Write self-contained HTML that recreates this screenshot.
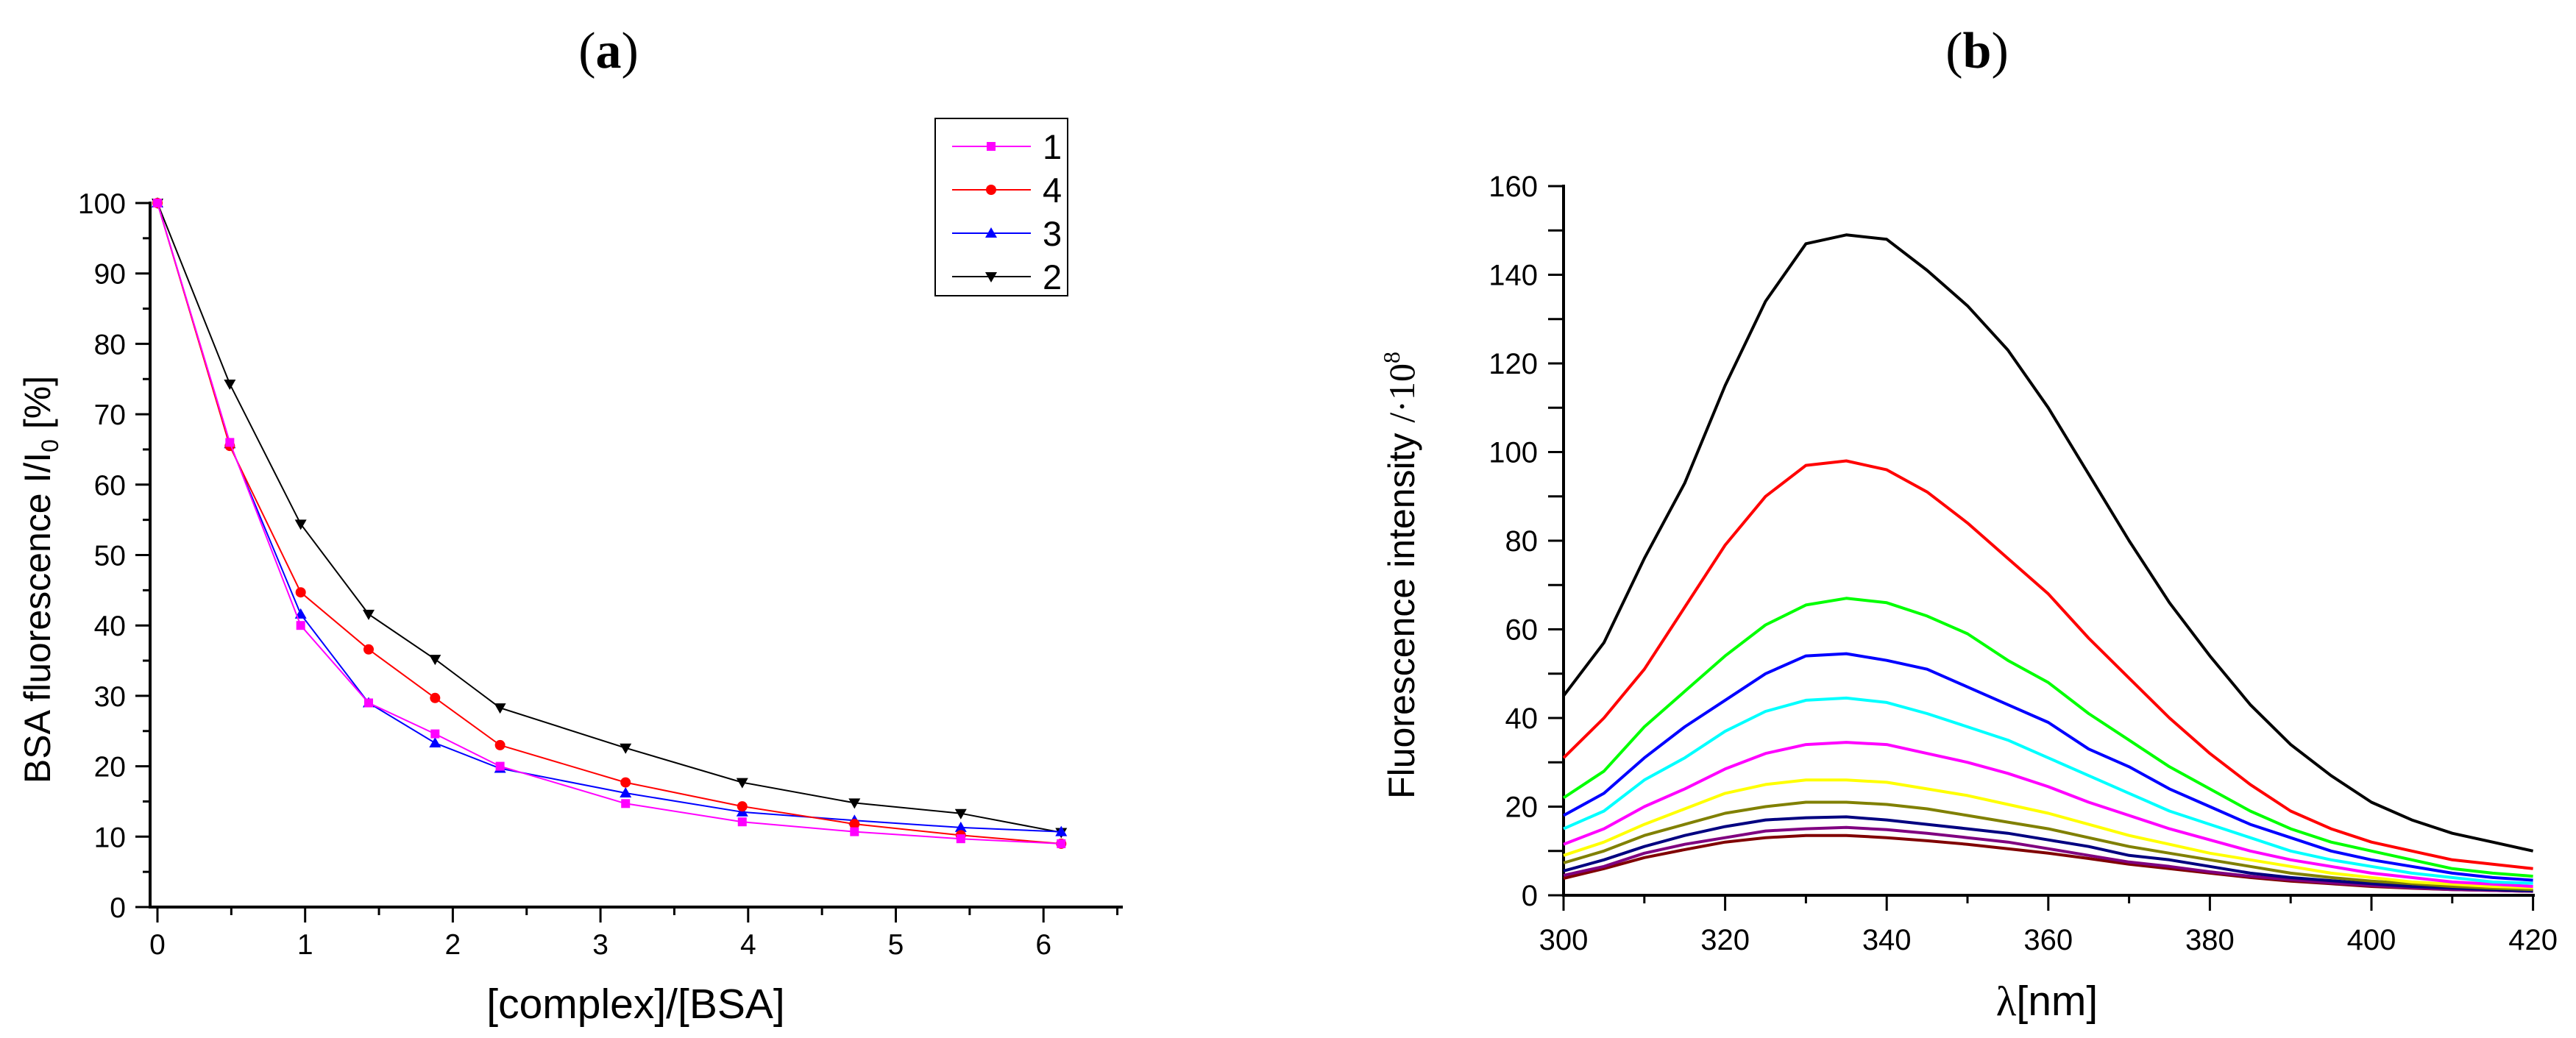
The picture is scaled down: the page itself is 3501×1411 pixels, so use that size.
<!DOCTYPE html>
<html><head><meta charset="utf-8"><style>
html,body{margin:0;padding:0;background:#fff;}
svg{display:block;}
text{font-family:"Liberation Sans Narrow","Liberation Sans",sans-serif;fill:#000;}
.title{font-family:"Liberation Serif",serif;font-weight:bold;font-size:70px;}
</style></head><body>
<svg id="fig" width="3501" height="1411" viewBox="0 0 3501 1411" xmlns="http://www.w3.org/2000/svg">
<rect width="3501" height="1411" fill="#fff"/>
<text class="title" x="827" y="92" text-anchor="middle"><tspan font-weight="normal">(</tspan>a<tspan font-weight="normal">)</tspan></text>
<text class="title" x="2687" y="92" text-anchor="middle"><tspan font-weight="normal">(</tspan>b<tspan font-weight="normal">)</tspan></text>
<g id="pa"></g>
<g id="pb"></g>
</svg>
<script>
// ----- Panel (a) data -----
const aX = [0, 0.49, 0.97, 1.43, 1.88, 2.32, 3.17, 3.96, 4.72, 5.44, 6.12];
const aS1 = [100, 66, 40, 29, 24.6, 20, 14.7, 12.1, 10.7, 9.7, 9];
const aS4 = [100, 65.5, 44.7, 36.6, 29.7, 23, 17.7, 14.3, 11.8, 10.2, 9];
const aS3 = [100, 65.8, 41.6, 29, 23.3, 19.7, 16.2, 13.5, 12.3, 11.3, 10.7];
const aS2 = [100, 74.3, 54.4, 41.6, 35.2, 28.3, 22.6, 17.7, 14.8, 13.3, 10.6];
const aXTicks = ["0","1","2","3","4","5","6"];
const aYTicks = ["0","10","20","30","40","50","60","70","80","90","100"];
const aLegend = ["1","4","3","2"];

// ----- Panel (b) data -----
const bX = [300,305,310,315,320,325,330,335,340,345,350,355,360,365,370,375,380,385,390,395,400,405,410,415,420];
const bBlack  = [45,57,76,93,115,134,147,149,148,141,133,123,110,95,80,66,54,43,34,27,21,17,14,12,10];
const bRed    = [31,40,51,65,79,90,97,98,96,91,84,76,68,58,49,40,32,25,19,15,12,10,8,7,6];
const bGreen  = [22,28,38,46,54,61,65.5,67,66,63,59,53,48,41,35,29,24,19,15,12,10,8,6,5,4.3];
const bBlue   = [18,23,31,38,44,50,54,54.5,53,51,47,43,39,33,29,24,20,16,13,10,8,6.5,5,4,3.4];
const bCyan   = [15,19,26,31,37,41.5,44,44.5,43.5,41,38,35,31,27,23,19,16,13,10,8,6.5,5,4,3,2.7];
const bMagenta= [11.5,15,20,24,28.5,32,34,34.5,34,32,30,27.5,24.5,21,18,15,12.5,10,8,6.5,5,4,3,2.5,2];
const bYellow = [9,12,16,19.5,23,25,26,26,25.5,24,22.5,20.5,18.5,16,13.5,11.5,9.5,8,6.5,5,4,3,2.5,2,1.7];
const bOlive  = [7.3,10,13.5,16,18.5,20,21,21,20.5,19.5,18,16.5,15,13,11,9.5,8,6.5,5,4,3.2,2.6,2,1.6,1.3];
const bNavy   = [5.5,8,11,13.5,15.5,17,17.5,17.7,17,16,15,14,12.5,11,9,8,6.5,5,4,3.3,2.6,2,1.6,1.3,1];
const bPurple = [4.5,6.5,9.5,11.5,13,14.5,15,15.3,14.8,14,13,12,10.5,9,7.5,6.5,5.3,4.3,3.5,2.8,2.2,1.7,1.3,1.1,0.9];
const bDarkred= [3.8,6,8.5,10.3,12,13,13.5,13.5,13,12.3,11.5,10.5,9.5,8.3,7,6,5,4,3.2,2.6,2,1.6,1.3,1.1,0.9];
const bXTicks = ["300","320","340","360","380","400","420"];
const bYTicks = ["0","20","40","60","80","100","120","140","160"];

const NS = "http://www.w3.org/2000/svg";
function mk(tag, attrs, parent){
  const e = document.createElementNS(NS, tag);
  for (const k in attrs) e.setAttribute(k, attrs[k]);
  parent.appendChild(e);
  return e;
}

// ===== Panel A =====
const pa = document.getElementById('pa');
const ax = v => 214 + v * 200.7;
const ay = v => 1233 - v * 9.57;
let e = mk('line', {x1:204, y1:ay(0), x2:1526, y2:ay(0), stroke:'#000','stroke-width':4}, pa);


e = mk('line', {x1:204, y1:ay(0)+2, x2:204, y2:ay(100)-2, stroke:'#000','stroke-width':4}, pa);


for (let i = 0; i <= 13; i++) {
  const v = i * 0.5, x = ax(v), major = i % 2 === 0;
  if (x > 1527) break;
  e = mk('line', {x1:x, y1:ay(0), x2:x, y2:ay(0) + (major ? 21 : 11), stroke:'#000','stroke-width':3}, pa);
  
  
}
aXTicks.forEach(t => {
  const el = mk('text', {x:ax(+t), y:1297, 'text-anchor':'middle','font-size':39}, pa);
  el.textContent = t;
  
  
});
for (let v = 0; v <= 100; v += 5) {
  const major = v % 10 === 0;
  e = mk('line', {x1:204, y1:ay(v), x2:204 - (major ? 20 : 10), y2:ay(v), stroke:'#000','stroke-width':3}, pa);
  
  
}
aYTicks.forEach(t => {
  const el = mk('text', {x:171, y:ay(+t)+14, 'text-anchor':'end','font-size':39}, pa);
  el.textContent = t;
  
  
});
e = mk('text', {x:864, y:1384, 'text-anchor':'middle','font-size':57}, pa);
e.textContent = '[complex]/[BSA]';


e = mk('text', {x:0, y:0, 'text-anchor':'middle','font-size':50, transform:'translate(68,788) rotate(-90)'}, pa);
e.innerHTML = 'BSA fluorescence I/I<tspan font-size="32" dy="11">0</tspan><tspan dy="-11"> [%]</tspan>';



function marker(kind, x, y, color, g, s){
  let m;
  if (kind === 'sq') m = mk('rect', {x:x-s, y:y-s, width:2*s, height:2*s, fill:color}, g);
  else if (kind === 'ci') m = mk('circle', {cx:x, cy:y, r:s+1, fill:color}, g);
  else if (kind === 'up') m = mk('polygon', {points:`${x},${y-s-2} ${x-s-2},${y+s} ${x+s+2},${y+s}`, fill:color}, g);
  else m = mk('polygon', {points:`${x},${y+s+2} ${x-s-2},${y-s} ${x+s+2},${y-s}`, fill:color}, g);
  return m;
}
const aSeries = [
  {vals:aS1, color:'#ff00ff', m:'sq', name:'series-1'},
  {vals:aS4, color:'#ff0000', m:'ci', name:'series-4'},
  {vals:aS3, color:'#0000ff', m:'up', name:'series-3'},
  {vals:aS2, color:'#000000', m:'dn', name:'series-2'}
];
[3,2,1,0].forEach(si => {
  const s = aSeries[si];
  const g = mk('g', {}, pa);
  
  
  const pts = aX.map((x,i) => ax(x).toFixed(1) + ',' + ay(s.vals[i]).toFixed(1)).join(' ');
  const pl = mk('polyline', {points:pts, fill:'none', stroke:s.color, 'stroke-width':2}, g);
  
  
  aX.forEach((x,i) => {
    const m = marker(s.m, ax(x), ay(s.vals[i]), s.color, g, 6);
    
    
  });
});
const lg = mk('g', {}, pa);


e = mk('rect', {x:1271, y:161, width:180, height:241, fill:'#fff', stroke:'#000','stroke-width':2}, lg);


aLegend.forEach((lab, i) => {
  const s = aSeries[i], y = 199 + i * 59;
  const g = mk('g', {}, lg);
  
  
  mk('line', {x1:1294, y1:y, x2:1401, y2:y, stroke:s.color, 'stroke-width':2}, g);
  marker(s.m, 1347, y, s.color, g, 6);
  const t = mk('text', {x:1417, y:y+17, 'font-size':47}, g);
  t.textContent = lab;
});

// ===== Panel B =====
const pb = document.getElementById('pb');
const bx = v => 2125 + (v - 300) * 10.98;
const by = v => 1217 - v * 6.025;
e = mk('line', {x1:2125, y1:by(0), x2:3445, y2:by(0), stroke:'#000','stroke-width':4}, pb);


e = mk('line', {x1:2125, y1:by(0)+2, x2:2125, y2:by(160)-2, stroke:'#000','stroke-width':4}, pb);


for (let v = 300; v <= 420; v += 10) {
  const major = v % 20 === 0;
  e = mk('line', {x1:bx(v), y1:by(0), x2:bx(v), y2:by(0) + (major ? 21 : 11), stroke:'#000','stroke-width':3}, pb);
  
  
}
bXTicks.forEach(t => {
  const el = mk('text', {x:bx(+t), y:1291, 'text-anchor':'middle','font-size':40}, pb);
  el.textContent = t;
  
  
});
for (let v = 0; v <= 160; v += 10) {
  e = mk('line', {x1:2125, y1:by(v), x2:2104, y2:by(v), stroke:'#000','stroke-width':3}, pb);
  
  
}
bYTicks.forEach(t => {
  const el = mk('text', {x:2090, y:by(+t)+14, 'text-anchor':'end','font-size':40}, pb);
  el.textContent = t;
  
  
});
e = mk('text', {x:2782, y:1380, 'text-anchor':'middle','font-size':57}, pb);
e.innerHTML = '<tspan font-family="Liberation Serif, serif">λ</tspan>[nm]';


e = mk('text', {x:0, y:0, 'text-anchor':'middle','font-size':50, transform:'translate(1922,782) rotate(-90)'}, pb);
e.innerHTML = 'Fluorescence intensity <tspan font-family="Liberation Serif, serif">/·10</tspan><tspan font-family="Liberation Serif, serif" font-size="32" dy="-20">8</tspan>';



const bSeries = [
  {vals:bDarkred, color:'#800000', name:'spectrum-11'},
  {vals:bPurple, color:'#800080', name:'spectrum-10'},
  {vals:bNavy, color:'#000080', name:'spectrum-9'},
  {vals:bOlive, color:'#808000', name:'spectrum-8'},
  {vals:bYellow, color:'#ffff00', name:'spectrum-7'},
  {vals:bMagenta, color:'#ff00ff', name:'spectrum-6'},
  {vals:bCyan, color:'#00ffff', name:'spectrum-5'},
  {vals:bBlue, color:'#0000ff', name:'spectrum-4'},
  {vals:bGreen, color:'#00ff00', name:'spectrum-3'},
  {vals:bRed, color:'#ff0000', name:'spectrum-2'},
  {vals:bBlack, color:'#000000', name:'spectrum-1'}
];
bSeries.forEach(s => {
  const pts = bX.map((x,i) => bx(x).toFixed(1) + ',' + by(s.vals[i]).toFixed(1)).join(' ');
  const pl = mk('polyline', {points:pts, fill:'none', stroke:s.color, 'stroke-width':4, 'stroke-linejoin':'round'}, pb);
  
  
});
</script>
</body></html>
